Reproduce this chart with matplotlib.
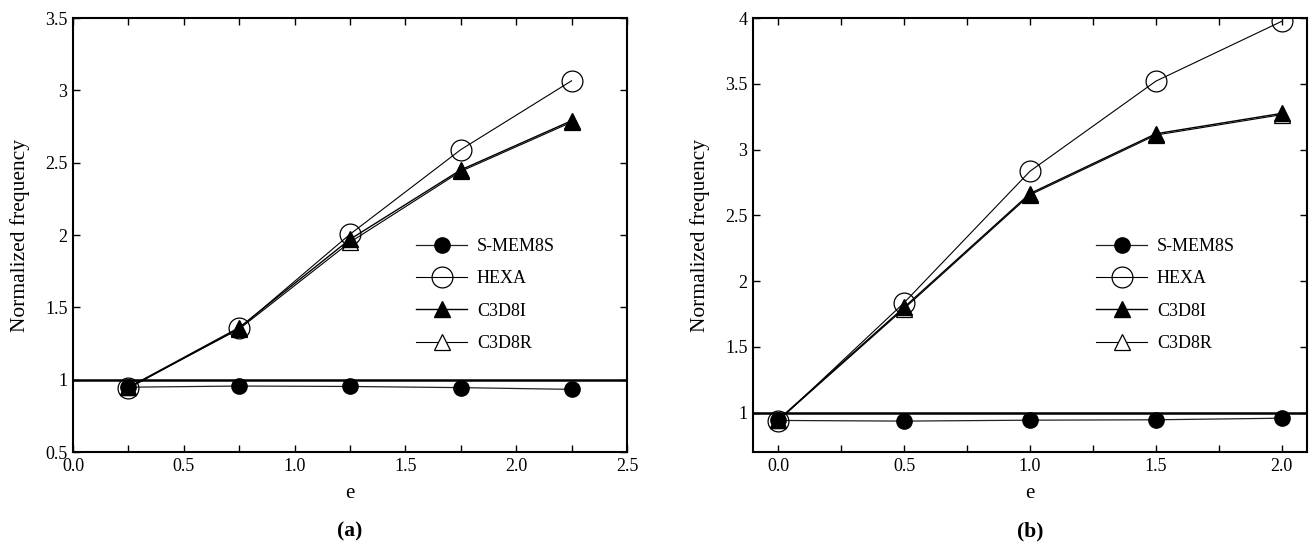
import matplotlib
matplotlib.use("Agg")
import matplotlib.pyplot as plt

plt.rcParams['font.family'] = ['Liberation Serif', 'DejaVu Serif']
plt.rcParams['mathtext.fontset'] = 'stix'

# Panel (a) data
e_a = [0.25, 0.75, 1.25, 1.75, 2.25]
smem_a = [0.948, 0.956, 0.953, 0.945, 0.933]
hexa_a = [0.94, 1.354, 2.005, 2.59, 3.066]
c3d8i_a = [0.946, 1.36, 1.97, 2.45, 2.79]
c3d8r_a = [0.946, 1.35, 1.95, 2.44, 2.78]

# Panel (b) data
e_b = [0.0, 0.5, 1.0, 1.5, 2.0]
smem_b = [0.94, 0.935, 0.942, 0.945, 0.957]
hexa_b = [0.935, 1.835, 2.835, 3.52, 3.975]
c3d8i_b = [0.945, 1.80, 2.665, 3.12, 3.275]
c3d8r_b = [0.94, 1.79, 2.655, 3.11, 3.265]

labels = ['S-MEM8S', 'HEXA', 'C3D8I', 'C3D8R']
panel_names = ['(a)', '(b)']

fig = plt.figure(figsize=(13.1, 5.54), dpi=100)
ax_a = fig.add_axes([0.0557, 0.1841, 0.4229, 0.7834])
ax_b = fig.add_axes([0.5748, 0.1841, 0.4229, 0.7834])

def draw(ax, e, s, h, ci, cr, xlim, ylim, xticks, xlabels, yticks, ylabels, name):
    ax.axhline(1.0, color='black', lw=1.8, zorder=1)
    ax.plot(e, s, '-', color='#222222', lw=0.9, marker='o', ms=11,
            mfc='black', mec='black', label=labels[0], zorder=3)
    ax.plot(e, h, '-', color='black', lw=0.8, marker='o', ms=15,
            mfc='none', mec='black', mew=0.9, label=labels[1], zorder=4)
    ax.plot(e, ci, '-', color='black', lw=1.0, marker='^', ms=11,
            mfc='black', mec='black', label=labels[2], zorder=3)
    ax.plot(e, cr, '-', color='black', lw=0.8, marker='^', ms=11,
            mfc='white', mec='black', mew=0.9, label=labels[3], zorder=2)
    ax.set_xlim(*xlim)
    ax.set_ylim(*ylim)
    ax.set_xticks(xticks)
    ax.set_xticklabels(xlabels)
    ax.set_yticks(yticks)
    ax.set_yticklabels(ylabels)
    ax.tick_params(direction='in', top=True, right=True, labelsize=13,
                   length=5, width=1, pad=4)
    for sp in ax.spines.values():
        sp.set_linewidth(1.5)
    ax.set_xlabel('e', fontsize=15, labelpad=7)
    ax.set_ylabel('Normalized frequency', fontsize=15.5, labelpad=11)
    ax.legend(loc='center left', bbox_to_anchor=(0.62, 0.362), frameon=False,
              fontsize=13, handlelength=2.8, handletextpad=0.55,
              labelspacing=0.85, borderpad=0, borderaxespad=0, numpoints=1)
    ax.text(0.5, -0.184, name, transform=ax.transAxes, ha='center', va='center',
            fontsize=15.5, fontweight='bold')

xt_a = [0.0, 0.25, 0.5, 0.75, 1.0, 1.25, 1.5, 1.75, 2.0, 2.25, 2.5]
xl_a = ['0.0', '', '0.5', '', '1.0', '', '1.5', '', '2.0', '', '2.5']
yt_a = [0.5, 1.0, 1.5, 2.0, 2.5, 3.0, 3.5]
yl_a = ['0.5', '1', '1.5', '2', '2.5', '3', '3.5']

xt_b = [0.0, 0.25, 0.5, 0.75, 1.0, 1.25, 1.5, 1.75, 2.0]
xl_b = ['0.0', '', '0.5', '', '1.0', '', '1.5', '', '2.0']
yt_b = [1.0, 1.5, 2.0, 2.5, 3.0, 3.5, 4.0]
yl_b = ['1', '1.5', '2', '2.5', '3', '3.5', '4']

draw(ax_a, e_a, smem_a, hexa_a, c3d8i_a, c3d8r_a, (0.0, 2.5), (0.5, 3.5),
     xt_a, xl_a, yt_a, yl_a, panel_names[0])
draw(ax_b, e_b, smem_b, hexa_b, c3d8i_b, c3d8r_b, (-0.1, 2.1), (0.7, 4.0),
     xt_b, xl_b, yt_b, yl_b, panel_names[1])

fig.savefig('out.png', dpi=100)
